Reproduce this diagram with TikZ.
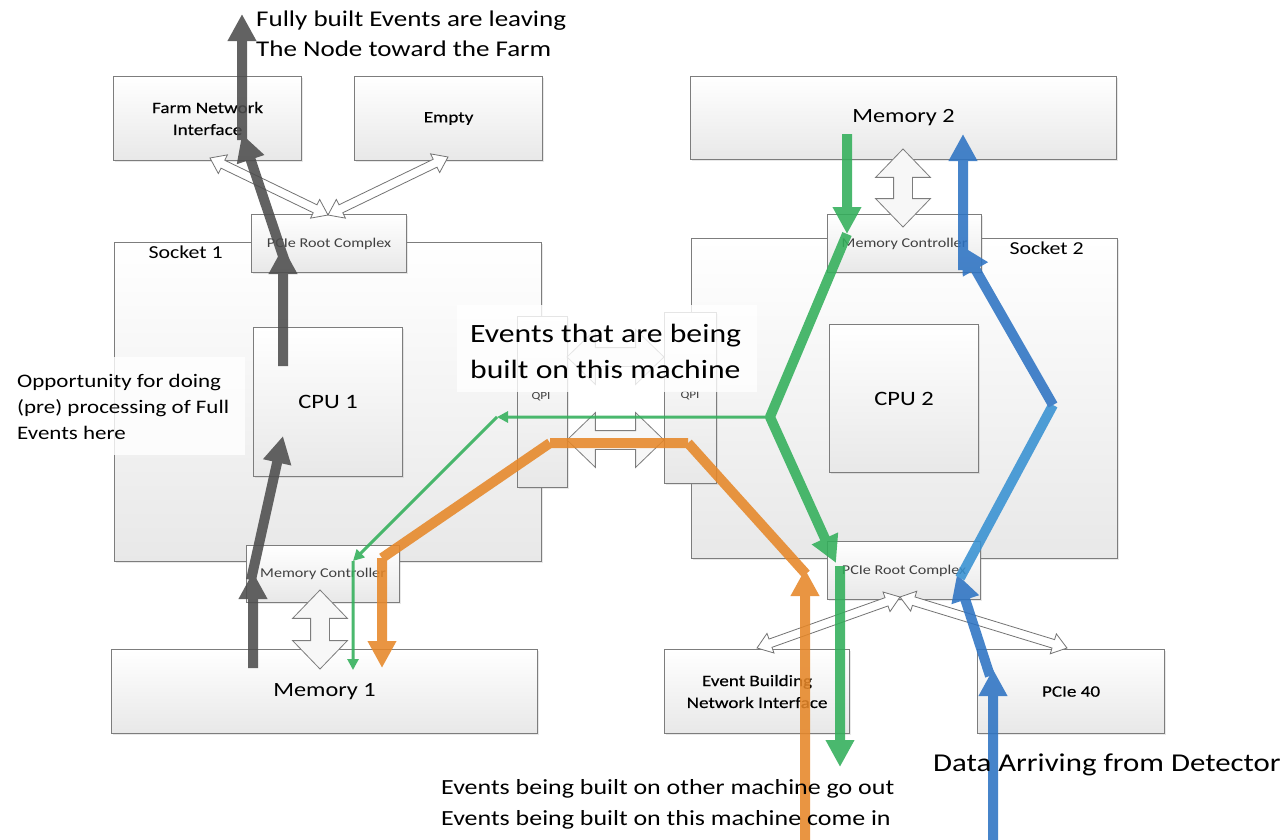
\documentclass[tikz,border=0pt]{standalone}
\usepackage{fontspec}
\setmainfont{Carlito}[FakeStretch=1.2]
\newfontfamily\labelfont{Carlito}[FakeStretch=1.2, FakeBold=0.35]
\usetikzlibrary{arrows.meta,calc,shapes.arrows,shadows}

\definecolor{boxline}{RGB}{125,125,125}
\definecolor{flowgray}{RGB}{77,77,77}
\definecolor{flowgreen}{RGB}{50,175,90}
\definecolor{floworange}{RGB}{230,135,40}
\definecolor{flowblue}{RGB}{45,115,195}
\definecolor{flowblueb}{RGB}{55,145,210}

\newcommand{\fsz}[2]{\fontsize{#1}{#2}\selectfont}
% block double arrow between two named points
\newcommand{\dblarrow}[4]{%
  \path let \p1=($(#4)-(#3)$) in
    node[#2, rotate={atan2(\y1,\x1)}, minimum height={veclen(\x1,\y1)}] (#1) at ($(#3)!0.5!(#4)$) {};}

\tikzset{
  hwbox/.style={draw=boxline, line width=1.1bp, top color=white, bottom color=black!9,
    inner sep=0pt, anchor=north west, align=center, text=black,
    drop shadow={shadow xshift=1.5bp, shadow yshift=-1.5bp, opacity=0.18}},
  bigdbl/.style={double arrow, draw=boxline, line width=0.8bp, fill=black!3,
    inner xsep=0pt, inner ysep=9bp, double arrow head extend=18bp, double arrow tip angle=88},
  thindbl/.style={double arrow, draw=black!55, line width=0.8bp, fill=white,
    inner xsep=0pt, inner ysep=4bp, double arrow head extend=6bp, double arrow tip angle=72},
  thick flow/.style={line width=10bp, -{Triangle[width=27bp,length=27bp]}},
  thick line/.style={line width=10bp},
  thin flow/.style={line width=3bp, -{Triangle[width=11bp,length=11bp]}},
  boxlabel/.style={font=\labelfont\fsz{16}{22}},
  cpulabel/.style={font=\fsz{20.5}{25}},
  ctrllabel/.style={font=\fsz{13.5}{16}, text=black!75},
  note/.style={align=left, anchor=west, inner sep=0pt},
}

\begin{document}
\begin{tikzpicture}[x=1bp,y=-1bp]
\useasboundingbox[fill=white] (0,0) rectangle (1285,840);

% ---- top row of devices
\node[hwbox, boxlabel, minimum width=188bp, minimum height=84bp] (farm) at (113,76) {Farm Network\\Interface};
\node[hwbox, boxlabel, minimum width=188bp, minimum height=84bp] (empty) at (354,76) {Empty};
\node[hwbox, font=\fsz{20.3}{24}, minimum width=426bp, minimum height=83bp] (mem2) at (690,76) {Memory 2};

% ---- sockets and CPUs
\node[hwbox, minimum width=427bp, minimum height=319bp] (sock1) at (114,242) {};
\node[hwbox, minimum width=426bp, minimum height=320bp] (sock2) at (691,238) {};
\node[hwbox, cpulabel, minimum width=149bp, minimum height=149bp] (cpu1) at (253,327) {CPU 1};
\node[hwbox, cpulabel, minimum width=149bp, minimum height=148bp] (cpu2) at (829,324) {CPU 2};
\node[font=\fsz{18.3}{20}, anchor=west] (s1lbl) at (145,252) {Socket 1};
\node[font=\fsz{18.3}{20}, anchor=west] (s2lbl) at (1006,248) {Socket 2};

% ---- controllers sitting on the socket edges
\node[hwbox, ctrllabel, minimum width=155bp, minimum height=58bp] (pcieL) at (251,214) {PCIe Root Complex};
\node[hwbox, ctrllabel, minimum width=153bp, minimum height=57bp] (mcL) at (246,545) {Memory Controller};
\node[hwbox, ctrllabel, minimum width=154bp, minimum height=58bp] (mcR) at (827,214) {Memory Controller};
\node[hwbox, ctrllabel, minimum width=153bp, minimum height=58bp] (pcieR) at (827,541) {PCIe Root Complex};

% ---- bottom row of devices
\node[hwbox, font=\fsz{20.3}{24}, minimum width=426bp, minimum height=84bp] (mem1) at (111,649) {Memory 1};
\node[hwbox, boxlabel, minimum width=185bp, minimum height=84bp] (ebni) at (664,649) {Event Building\\Network Interface};
\node[hwbox, boxlabel, minimum width=187bp, minimum height=84bp] (pcie40) at (977,649) {PCIe 40};

% ---- QPI links
\node[hwbox, minimum width=50bp, minimum height=171bp] (qpiL) at (517,316) {};
\node[hwbox, minimum width=52bp, minimum height=171bp] (qpiR) at (664,312) {};
\node[font=\fsz{11}{12}, text=black!75] (qpiLlbl) at (541,397) {QPI};
\node[font=\fsz{11}{12}, text=black!75] (qpiRlbl) at (690,396) {QPI};

% ---- bus arrows
\coordinate (hubL) at (328,215);
\coordinate (farmEnd) at (210,158);
\coordinate (emptyEnd) at (448,157);
\coordinate (hubR) at (900,597);
\coordinate (ebniEnd) at (757,648);
\coordinate (pcie40End) at (1067,648);
\dblarrow{busFarm}{thindbl}{hubL}{farmEnd}
\dblarrow{busEmpty}{thindbl}{hubL}{emptyEnd}
\dblarrow{busEbni}{thindbl}{hubR}{ebniEnd}
\dblarrow{busPcie40}{thindbl}{hubR}{pcie40End}

\coordinate (mcLbot) at (320,590);
\coordinate (mem1top) at (320,669);
\coordinate (mem2bot) at (903,149);
\coordinate (mcRtop) at (903,227);
\coordinate (qpiLa) at (567,357);
\coordinate (qpiRa) at (664,357);
\coordinate (qpiLb) at (567,440);
\coordinate (qpiRb) at (664,440);
\dblarrow{memBusL}{bigdbl}{mcLbot}{mem1top}
\dblarrow{memBusR}{bigdbl}{mem2bot}{mcRtop}
\dblarrow{qpiBusA}{bigdbl}{qpiLa}{qpiRa}
\dblarrow{qpiBusB}{bigdbl}{qpiLb}{qpiRb}

% ---- captions with their white backing
\node[fill=white, fill opacity=0.8, minimum width=300bp, minimum height=87bp, anchor=north west, inner sep=0pt] (buildbg) at (457,305) {};
\node[note, font=\fsz{26.5}{36}] (buildtxt) at (470,351) {Events that are being\\built on this machine};
\node[fill=white, fill opacity=0.8, minimum width=236bp, minimum height=98bp, anchor=north west, inner sep=0pt] (oppbg) at (9,357) {};
\node[note, font=\fsz{19.2}{26}] (opptxt) at (17,407) {Opportunity for doing\\(pre) processing of Full\\Events here};

% ---- data flow waypoints
\coordinate (k0) at (253,668);  \coordinate (k1) at (253,572);
\coordinate (k2) at (251,580);  \coordinate (k3) at (283,436);
\coordinate (k4) at (283,366);  \coordinate (k5) at (283,247);
\coordinate (k6) at (285,262);  \coordinate (k7) at (242,134);
\coordinate (k8) at (242,140);  \coordinate (k9) at (242,14);

\coordinate (g0) at (847,134);  \coordinate (g1) at (847,234);
\coordinate (g2) at (770,417);  \coordinate (g3) at (836,563);
\coordinate (g4) at (840,566);  \coordinate (g5) at (840,767);
\coordinate (t1) at (497,417);  \coordinate (t2) at (353,561);
\coordinate (t3) at (353,670);

\coordinate (o0) at (805,840);  \coordinate (o1) at (805,569);
\coordinate (o2) at (806,574);  \coordinate (o3) at (688,443);
\coordinate (o4) at (550,443);  \coordinate (o5) at (382,558);
\coordinate (o6) at (382,668);

\coordinate (b0) at (993,840);  \coordinate (b1) at (993,669);
\coordinate (b2) at (990,676);  \coordinate (b3) at (957,574);
\coordinate (b4) at (960,578);  \coordinate (b5) at (1053,405);
\coordinate (b6) at (962,246);  \coordinate (b7) at (963,270);
\coordinate (b8) at (963,134);

\begin{scope}[transparency group, opacity=0.88]
  % full events leaving towards the farm
  \draw[flowgray, thick flow] (k0) -- (k1);
  \draw[flowgray, thick flow] (k2) -- (k3);
  \draw[flowgray, thick flow] (k4) -- (k5);
  \draw[flowgray, thick flow] (k6) -- (k7);
  \draw[flowgray, thick flow] (k8) -- (k9);
  % fragments for events built here
  \draw[flowgreen, thick flow] (g0) -- (g1);
  \draw[flowgreen, thick flow, line join=bevel] (g1) -- (g2) -- (g3);
  \draw[flowgreen, thick flow] (g4) -- (g5);
  \draw[flowgreen, thin flow] (g2) -- (t1);
  \draw[flowgreen, thin flow] (t1) -- (t2);
  \draw[flowgreen, thin flow] (t2) -- (t3);
  % fragments arriving from other machines
  \draw[floworange, thick flow] (o0) -- (o1);
  \draw[floworange, thick line] (o2) -- (o3);
  \draw[floworange, thick line] (o3) -- (o4);
  \draw[floworange, thick line] (o4) -- (o5);
  \draw[floworange, thick flow] (o5) -- (o6);
  % detector data
  \draw[flowblue, thick flow] (b0) -- (b1);
  \draw[flowblue, thick flow] (b2) -- (b3);
  \draw[flowblueb, thick line] (b4) -- (b5);
  \draw[flowblue, thick flow] (b5) -- (b6);
  \draw[flowblue, thick flow] (b7) -- (b8);
\end{scope}

% ---- free captions
\node[note, font=\fsz{22.6}{30}] (farmtxt) at (256,34) {Fully built Events are leaving\\The Node toward the Farm};
\node[note, font=\fsz{21.7}{31}] (outtxt) at (441,804) {Events being built on other machine go out\\Events being built on this machine come in};
\node[note, font=\fsz{25.8}{30}] (dettxt) at (933,765) {Data Arriving from Detector};
\end{tikzpicture}
\end{document}
